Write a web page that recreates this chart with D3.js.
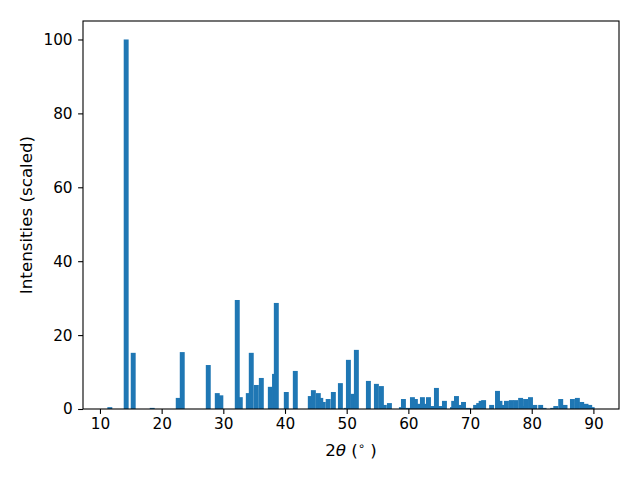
<!DOCTYPE html>
<html><head><meta charset="utf-8">
<script src="https://cdn.jsdelivr.net/npm/d3@7"></script>
<style>
body{margin:0;background:#fff;}
text{font-family:"DejaVu Sans",sans-serif;}
</style></head>
<body><svg id="c" width="640" height="480"></svg>
<script>
const twoTheta = [11.6,14.25,15.39,18.47,22.69,23.34,27.56,29.02,29.6,32.26,32.75,34.05,34.53,35.35,36.16,37.62,38.3,38.59,40.21,41.67,44.1,44.6,45.4,45.8,46.2,47.0,47.84,48.98,49.9,50.28,51.0,51.57,53.52,54.82,55.63,56.1,56.93,58.87,59.2,60.0,60.66,61.14,61.8,62.28,62.8,63.26,63.9,64.55,65.2,65.85,67.15,67.35,67.8,68.4,68.94,69.75,70.9,71.4,71.8,72.2,73.5,74.45,74.85,75.1,75.4,75.9,76.7,77.4,78.2,78.7,79.0,79.8,80.5,81.45,82.0,83.4,83.9,84.7,85.4,86.6,87.4,88.1,88.8,89.4,89.8];
const intensity = [0.5,100,15.2,0.3,3.0,15.4,11.9,4.3,3.7,29.5,3.2,4.3,15.2,6.5,8.4,6.0,9.5,28.7,4.6,10.3,3.5,5.1,4.3,3.0,1.9,2.7,4.6,7.0,0.3,13.3,4.1,16.0,7.6,6.8,6.2,1.1,1.6,0.5,2.7,0.3,3.2,2.7,1.4,3.2,1.4,3.2,0.8,5.7,0.8,2.2,0.5,2.2,3.5,1.1,1.9,0.3,1.1,1.6,2.2,2.4,1.1,4.9,2.2,1.1,0.8,2.2,2.4,2.4,3.0,0.8,2.7,3.2,1.1,1.1,0.3,0.3,0.8,2.7,1.1,2.7,3.0,1.9,1.4,1.1,0.5];
const xTicks = [10,20,30,40,50,60,70,80,90];
const yTicks = [0,20,40,60,80,100];
const barWidth = 0.8;

const svg = d3.select('#c');
const L=83, T=21, W=536, H=388;
const lo = d3.min(twoTheta)-barWidth/2, hi = d3.max(twoTheta)+barWidth/2;
const pad = (hi-lo)*0.05;
const x = d3.scaleLinear().domain([lo-pad, hi+pad]).range([L, L+W]);
const y = d3.scaleLinear().domain([0, d3.max(intensity)*1.05]).range([T+H, T]);

svg.append('g').selectAll('rect').data(twoTheta.map((t,i)=>({t, v:intensity[i]})))
  .enter().append('rect')
  .attr('x', d=>x(d.t-barWidth/2)).attr('width', d=>x(d.t+barWidth/2)-x(d.t-barWidth/2))
  .attr('y', d=>y(d.v)).attr('height', d=>y(0)-y(d.v))
  .attr('fill', '#1f77b4');

const fs = 15.3, lfs = 16.7;
const xa = svg.append('g').attr('transform', `translate(0,${T+H})`)
  .call(d3.axisBottom(x).tickValues(xTicks).tickSize(4.9).tickSizeOuter(0).tickPadding(4.5).tickFormat(d3.format('d')));
const ya = svg.append('g').attr('transform', `translate(${L},0)`)
  .call(d3.axisLeft(y).tickValues(yTicks).tickSize(4.9).tickSizeOuter(0).tickPadding(5.5).tickFormat(d3.format('d')));
[xa, ya].forEach(a=>{
  a.select('.domain').remove();
  a.selectAll('line').attr('stroke','#000').attr('stroke-width',1.1);
  a.selectAll('text').attr('fill','#000').style('font-size', fs+'px').style('font-family','DejaVu Sans');
});

svg.append('rect').attr('x',L).attr('y',T).attr('width',W).attr('height',H)
  .attr('fill','none').attr('stroke','#000').attr('stroke-width',1.1);

const xl = svg.append('text').attr('x', L+W/2).attr('y', 456).attr('text-anchor','middle')
  .style('font-size', lfs+'px').attr('fill','#000');
xl.append('tspan').text('2');
xl.append('tspan').style('font-style','italic').text('θ');
xl.append('tspan').text(' (');
xl.append('tspan').attr('dy',-6).style('font-size','11.5px').text('∘');
xl.append('tspan').attr('dy',6).text(' )');

svg.append('text').attr('transform', `translate(32,${T+H/2}) rotate(-90)`).attr('text-anchor','middle')
  .style('font-size', lfs+'px').attr('fill','#000').text('Intensities (scaled)');
</script></body></html>
